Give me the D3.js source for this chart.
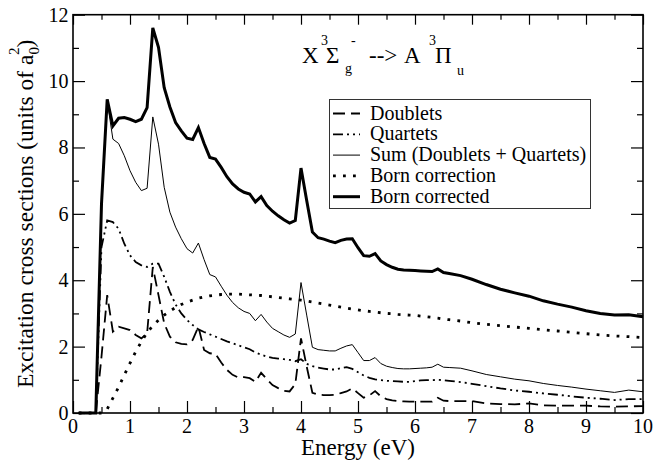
<!DOCTYPE html>
<html>
<head>
<meta charset="utf-8">
<script src="https://cdn.jsdelivr.net/npm/d3@7"></script>
<style>
  html, body { margin: 0; padding: 0; background: #fff; }
  svg text { font-family: "Liberation Serif", "DejaVu Serif", serif; }
</style>
</head>
<body>
<div id="chart"></div>
<script>
const FONT = '"Liberation Serif", "DejaVu Serif", serif';

// energy grid (eV)
const energy = [
  0.1, 0.2, 0.3, 0.4, 0.5, 0.6, 0.7, 0.8, 0.9, 1.0,
  1.1, 1.2, 1.3, 1.4, 1.5, 1.6, 1.7, 1.8, 1.9, 2.0,
  2.1, 2.2, 2.3, 2.4, 2.5, 2.6, 2.7, 2.8, 2.9, 3.0,
  3.1, 3.2, 3.3, 3.4, 3.5, 3.6, 3.7, 3.8, 3.9, 4.0,
  4.1, 4.2, 4.3, 4.4, 4.5, 4.6, 4.7, 4.8, 4.9, 5.0,
  5.1, 5.2, 5.3, 5.4, 5.5, 5.6, 5.7, 5.8, 5.9, 6.0,
  6.1, 6.2, 6.3, 6.4, 6.5, 6.6, 6.8, 7.0, 7.25, 7.5,
  7.75, 8.0, 8.25, 8.5, 8.75, 9.0, 9.25, 9.5, 9.75, 10.0
];

const doublets = [
  0, 0, 0, 0, 1.7, 3.55, 2.45, 2.6, 2.55, 2.5,
  2.35, 2.25, 2.4, 4.4, 3.55, 2.7, 2.3, 2.13, 2.08, 2.07,
  2.2, 2.6, 1.9, 1.8, 1.78, 1.52, 1.3, 1.15, 1.07, 1.08,
  1.05, 0.94, 1.21, 1.02, 0.84, 0.75, 0.67, 0.65, 0.87, 2.25,
  1.4, 0.61, 0.55, 0.54, 0.54, 0.55, 0.6, 0.65, 0.74, 0.6,
  0.46, 0.53, 0.66, 0.5, 0.42, 0.38, 0.36, 0.35, 0.34, 0.34,
  0.34, 0.34, 0.34, 0.46, 0.37, 0.36, 0.36, 0.36, 0.29, 0.27,
  0.26, 0.29, 0.23, 0.22, 0.22, 0.22, 0.2, 0.19, 0.2, 0.21
];

const quartets = [
  0, 0, 0, 0, 5.0, 5.8, 5.75, 5.55, 5.1, 4.75,
  4.55, 4.45, 4.4, 4.5, 4.5, 4.1, 3.65, 3.27, 3.0, 2.8,
  2.65, 2.52, 2.44, 2.37, 2.3, 2.23, 2.16, 2.1, 2.04, 1.98,
  1.92, 1.82, 1.76, 1.7, 1.66, 1.64, 1.62, 1.6, 1.56, 1.62,
  1.48, 1.41, 1.37, 1.34, 1.31, 1.31, 1.35, 1.38, 1.33, 1.23,
  1.13, 1.06, 1.01, 0.99, 0.97, 0.96, 0.95, 0.94, 0.94, 0.96,
  0.98, 0.99, 0.99, 1.0, 0.99, 0.97, 0.93, 0.88, 0.81, 0.74,
  0.68, 0.64, 0.59, 0.55, 0.5, 0.46, 0.43, 0.39, 0.42, 0.42
];

const sumDQ = [
  0, 0, 0, 0, 6.2, 9.4, 8.25, 8.12, 7.75, 7.3,
  6.95, 6.7, 6.77, 8.92, 8.1, 6.8, 6.05, 5.6, 5.25, 4.95,
  4.82, 5.12, 4.62, 4.17, 4.1, 3.82, 3.55, 3.33, 3.17, 3.06,
  3.0, 2.78, 2.97, 2.74, 2.55, 2.45, 2.35, 2.28, 2.38, 3.93,
  2.95, 1.98, 1.91, 1.89, 1.87, 1.87, 1.95, 2.02, 2.06, 1.82,
  1.58, 1.58, 1.67, 1.49, 1.41, 1.37, 1.34, 1.33, 1.33, 1.34,
  1.35, 1.36, 1.38, 1.47, 1.38, 1.37, 1.35, 1.27, 1.16, 1.09,
  1.02, 0.97, 0.89, 0.83, 0.78, 0.72, 0.67, 0.62, 0.69, 0.64
];

const bornCorrection = [
  0, 0, 0, 0, 0, 0.12, 0.45, 0.78, 1.15, 1.5,
  1.85, 2.15, 2.42, 2.63, 2.8, 2.95, 3.07, 3.18, 3.27, 3.34,
  3.4, 3.46, 3.5, 3.53, 3.55, 3.57, 3.58, 3.58, 3.58, 3.57,
  3.56, 3.55, 3.54, 3.52, 3.5, 3.48, 3.46, 3.44, 3.42, 3.4,
  3.37, 3.34, 3.31, 3.28, 3.25, 3.22, 3.19, 3.16, 3.13, 3.11,
  3.08, 3.06, 3.04, 3.02, 3.0, 2.99, 2.97, 2.96, 2.95, 2.94,
  2.92, 2.9, 2.88, 2.86, 2.83, 2.81, 2.77, 2.72, 2.67, 2.63,
  2.59, 2.55, 2.51, 2.47, 2.43, 2.39, 2.35, 2.32, 2.3, 2.27
];

const bornCorrected = [
  0, 0, 0, 0, 6.3, 9.45, 8.65, 8.88, 8.9, 8.85,
  8.78, 8.85, 9.2, 11.6, 11.02, 9.8, 9.22, 8.75, 8.5, 8.28,
  8.24, 8.6, 8.12, 7.7, 7.65, 7.4, 7.12, 6.9, 6.75, 6.65,
  6.6, 6.36, 6.52, 6.25, 6.08, 5.94, 5.82, 5.72, 5.8, 7.38,
  6.4, 5.45, 5.28, 5.24, 5.18, 5.13, 5.2, 5.24, 5.25, 4.98,
  4.74, 4.72, 4.8, 4.58, 4.47, 4.39, 4.33, 4.31, 4.3, 4.29,
  4.28, 4.27, 4.26, 4.34, 4.23, 4.2, 4.14, 4.03, 3.87, 3.73,
  3.62, 3.52, 3.38, 3.28, 3.19, 3.08, 3.0, 2.95, 2.96, 2.9
];

const xTicks = [0, 1, 2, 3, 4, 5, 6, 7, 8, 9, 10];
const yTicks = [0, 2, 4, 6, 8, 10, 12];

// series styling (name, values, stroke width, dash pattern)
const series = [
  { name: 'Doublets', values: doublets, width: 1.8, dash: '12,6' },
  { name: 'Quartets', values: quartets, width: 1.8, dash: '10,4,2,4,2,4' },
  { name: 'Sum (Doublets + Quartets)', values: sumDQ, width: 1, dash: null },
  { name: 'Born correction', values: bornCorrection, width: 2.8, dash: '2.8,7.2' },
  { name: 'Born corrected', values: bornCorrected, width: 3, dash: null }
];

const width = 653;
const height = 461;
const margin = { left: 73, right: 10, top: 14.7, bottom: 48 };

const svg = d3.select('#chart')
  .append('svg')
  .attr('width', width)
  .attr('height', height)
  .attr('font-family', FONT);

const xScale = d3.scaleLinear().domain([0, 10]).range([margin.left, width - margin.right]);
const yScale = d3.scaleLinear().domain([0, 12]).range([height - margin.bottom, margin.top]);

const [x0, x1] = xScale.range();
const [yB, yT] = yScale.range();

// Lines
const line = d3.line()
  .x((d, i) => xScale(energy[i]))
  .y(d => yScale(d));

const plot = svg.append('g');
series.forEach(s => {
  plot.append('path')
    .datum(s.values)
    .attr('fill', 'none')
    .attr('stroke', '#000')
    .attr('stroke-width', s.width)
    .attr('stroke-linejoin', 'miter')
    .attr('stroke-dasharray', s.dash)
    .attr('d', line);
});

// Axes: ticks pointing inward on all four sides
const minorX = d3.range(0.5, 10, 1);
const minorY = d3.range(1, 12, 2);

const bottomAxis = d3.axisTop(xScale).tickValues(xTicks).tickSize(12).tickFormat('');
const bottomMinor = d3.axisTop(xScale).tickValues(minorX).tickSize(6).tickFormat('');
const topAxis = d3.axisBottom(xScale).tickValues(xTicks).tickSize(10).tickFormat('');
const topMinor = d3.axisBottom(xScale).tickValues(minorX).tickSize(5).tickFormat('');
const leftAxis = d3.axisRight(yScale).tickValues(yTicks).tickSize(12).tickFormat('');
const leftMinor = d3.axisRight(yScale).tickValues(minorY).tickSize(6).tickFormat('');
const rightAxis = d3.axisLeft(yScale).tickValues(yTicks).tickSize(12).tickFormat('');
const rightMinor = d3.axisLeft(yScale).tickValues(minorY).tickSize(6).tickFormat('');

const axes = [
  [bottomAxis, `translate(0,${yB})`], [bottomMinor, `translate(0,${yB})`],
  [topAxis, `translate(0,${yT})`], [topMinor, `translate(0,${yT})`],
  [leftAxis, `translate(${x0},0)`], [leftMinor, `translate(${x0},0)`],
  [rightAxis, `translate(${x1},0)`], [rightMinor, `translate(${x1},0)`]
];
axes.forEach(([ax, tr]) => {
  const g = svg.append('g').attr('transform', tr).call(ax);
  g.select('.domain').remove();
  g.selectAll('line').attr('stroke', '#000').attr('stroke-width', 1.2);
});

// frame
svg.append('rect')
  .attr('x', x0).attr('y', yT)
  .attr('width', x1 - x0).attr('height', yB - yT)
  .attr('fill', 'none')
  .attr('stroke', '#000')
  .attr('stroke-width', 1.6);

// tick labels
svg.append('g').selectAll('text')
  .data(xTicks)
  .join('text')
  .attr('x', d => xScale(d))
  .attr('y', yB + 20)
  .attr('text-anchor', 'middle')
  .attr('font-family', FONT)
  .style('font-size', '20px')
  .text(d => d);

svg.append('g').selectAll('text')
  .data(yTicks)
  .join('text')
  .attr('x', x0 - 4.5)
  .attr('y', d => yScale(d) + 7)
  .attr('text-anchor', 'end')
  .attr('font-family', FONT)
  .style('font-size', '20px')
  .text(d => d);

// axis labels
svg.append('text')
  .attr('x', (x0 + x1) / 2)
  .attr('y', 455)
  .attr('text-anchor', 'middle')
  .attr('font-family', FONT)
  .style('font-size', '23px')
  .text('Energy (eV)');

const yLabel = svg.append('text')
  .attr('transform', `translate(33,${(yB + yT) / 2}) rotate(-90)`)
  .attr('text-anchor', 'middle')
  .attr('font-family', FONT)
  .style('font-size', '23.5px');
yLabel.append('tspan').text('Excitation cross sections (units of a');
yLabel.append('tspan').attr('dy', 6).style('font-size', '15px').text('0');
yLabel.append('tspan').attr('dx', -8).attr('dy', -20).style('font-size', '15px').text('2');
yLabel.append('tspan').attr('dy', 14).text(')');

// title: X 3Σg- --> A 3Πu
const title = svg.append('text').attr('font-family', FONT);
const titleParts = [
  { t: 'X', x: 302, y: 63, s: 23 },
  { t: '3', x: 321, y: 45, s: 14 },
  { t: 'Σ', x: 326, y: 63, s: 23 },
  { t: 'g', x: 345, y: 73, s: 14 },
  { t: '-', x: 351, y: 45, s: 14 },
  { t: '-->', x: 369, y: 63, s: 23 },
  { t: 'A', x: 404, y: 63, s: 23 },
  { t: '3', x: 429, y: 45, s: 14 },
  { t: 'Π', x: 435, y: 63, s: 23 },
  { t: 'u', x: 457, y: 75, s: 14 }
];
titleParts.forEach(p => {
  title.append('tspan')
    .attr('x', p.x).attr('y', p.y)
    .style('font-size', p.s + 'px')
    .text(p.t);
});

// legend
const legend = svg.append('g');
legend.append('rect')
  .attr('x', 329.5).attr('y', 99.5)
  .attr('width', 261).attr('height', 109)
  .attr('fill', '#fff')
  .attr('stroke', '#333')
  .attr('stroke-width', 1);

series.forEach((s, i) => {
  const by = 119.5 + i * 20.8;
  legend.append('line')
    .attr('x1', 333).attr('x2', 360)
    .attr('y1', by - 6).attr('y2', by - 6)
    .attr('stroke', '#000')
    .attr('stroke-width', s.width)
    .attr('stroke-dasharray', s.dash);
  legend.append('text')
    .attr('x', 370).attr('y', by)
    .attr('font-family', FONT)
    .style('font-size', '20px')
    .text(s.name);
});
</script>
</body>
</html>
